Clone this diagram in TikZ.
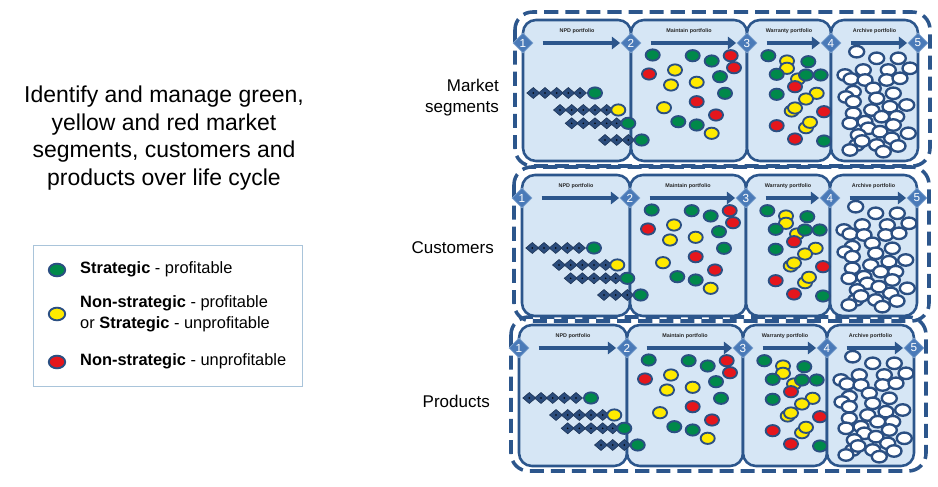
\documentclass[tikz,border=0pt]{standalone}
\usepackage{fontspec}
\setmainfont{Liberation Sans}
\usetikzlibrary{arrows.meta, positioning, shapes.geometric}

\definecolor{frameblue}{HTML}{2C568C}
\definecolor{boxfill}{HTML}{D6E6F5}
\definecolor{gateblue}{HTML}{4A7AB8}
\definecolor{gateedge}{HTML}{7FA3CF}
\definecolor{npdblue}{HTML}{2B4C7C}
\definecolor{dotline}{HTML}{2B4F82}
\definecolor{segGreen}{HTML}{00894A}
\definecolor{segYellow}{HTML}{FFEA00}
\definecolor{segRed}{HTML}{E5161C}
\definecolor{legendedge}{HTML}{A9C4DA}

\tikzset{
  panelframe/.style={draw=frameblue, line width=3pt, dash pattern=on 12pt off 6pt, rounded corners=15pt},
  stagebox/.style={draw=frameblue, fill=boxfill, line width=2.2pt, rounded corners=11pt},
  gate/.style={diamond, aspect=1, fill=gateblue, draw=gateedge, line width=0.6pt, text=white,
    inner sep=0pt, minimum width=17pt, minimum height=17pt, font=\fontsize{10}{10}\selectfont},
  flow/.style={draw=frameblue, line width=3.8pt, -{Triangle[length=7pt,width=10.5pt]},
    shorten <=8pt, shorten >=0.5pt},
  stagelabel/.style={above=6.5pt, inner sep=0pt, text=black!85,
    font=\bfseries\fontsize{4.6}{5}\selectfont},
  npd/.style={fill=npdblue, draw=npdblue!70!black, line width=0.5pt},
  dotG/.style={draw=dotline, fill=segGreen, line width=1.6pt},
  dotY/.style={draw=dotline, fill=segYellow, line width=1.6pt},
  dotR/.style={draw=dotline, fill=segRed, line width=1.6pt},
  dotW/.style={draw=dotline, fill=white, line width=2pt},
  rowlabel/.style={anchor=east, align=right, inner sep=0pt, font=\fontsize{14.5}{18}\selectfont},
  legendtext/.style={anchor=west, align=left, inner sep=0pt, font=\fontsize{14}{18}\selectfont}
}

% one row of NPD gems ending in a coloured segment
\newcommand{\npdrow}[4]{%
  \foreach \gx in {#2} {
    \draw[npd] (\gx,#1) +(-6.5,0) -- +(0,-5.5) -- +(6.5,0) -- +(0,5.5) -- cycle;
    \fill[black] (\gx,#1) circle (0.7pt);
  }
  \draw[dot#4] (#3,#1) ellipse [x radius=6pt, y radius=4.8pt];
}

% one life cycle panel (stages, gates, segments)
\newcommand{\lifecyclepanel}{%
  \draw[panelframe] (515,12) rectangle (930,166);
  \draw[stagebox] (523,20) rectangle (631,161);
  \draw[stagebox] (631,20) rectangle (747,161);
  \draw[stagebox] (747,20) rectangle (831,161);
  \draw[stagebox] (831,20) rectangle (918,161);
  % gates
  \node[gate] (g1) at (523,43) {1};
  \node[gate] (g2) at (631,43) {2};
  \node[gate] (g3) at (747,43) {3};
  \node[gate] (g4) at (831,43) {4};
  \node[gate] (g5) at (918,43) {5};
  \draw[flow] (g1) -- node[stagelabel] (lnpd) {NPD portfolio} (g2);
  \draw[flow] (g2) -- node[stagelabel] (lmain) {Maintain portfolio} (g3);
  \draw[flow] (g3) -- node[stagelabel] (lwar) {Warranty portfolio} (g4);
  \draw[flow] (g4) -- node[stagelabel] (larc) {Archive portfolio} (g5);
  % NPD rows
  \npdrow{93}{533.3,545,556.7,568.3,580}{595}{G}
  \npdrow{110}{560,571.7,583.3,595,606.7}{618.3}{Y}
  \npdrow{123.3}{571.7,583.3,595,606.7,616.7}{628.3}{G}
  \npdrow{140}{605,616.7,628.3}{641.7}{G}
  % maintain and warranty segments
  \foreach \px/\py/\c in {652.7/55/G, 649/74/R, 675/70/Y, 671/85/Y, 692.7/55.7/G, 711.7/61/G,
      730.7/55.7/R, 734/67.7/R, 696.7/82.3/Y, 720/76.7/G, 725/93.3/G, 696.7/101.7/R,
      664/107.7/Y, 716/115/R, 678.3/121.7/G, 696.7/125/G, 711.7/133.3/Y,
      768.3/55.7/G, 787/61/Y, 787/68.3/Y, 808.3/61.7/G, 776.7/74.3/G, 798/79/Y, 806/75/G,
      820.7/75/G, 795/86.7/R, 776.7/94.3/G, 816.7/93.3/Y, 806/99/Y, 791.7/111/Y, 795/108/Y,
      824/111.7/R, 806/127.7/Y, 810/122.3/Y, 776.7/125.7/R, 795/139/R, 824/141/G}
    \draw[dot\c] (\px,\py) ellipse [x radius=6pt, y radius=4.8pt];
  % archive
  \foreach \px/\py in {856.7/51.7, 876.7/58.3, 898.3/58.3, 863.3/70, 888.3/70, 910/68.3,
      845/75, 851/79, 865/80, 886.7/80, 900/78.3, 873.3/88.3, 853.3/91.7, 893.3/93.3,
      846/97, 876.7/98.3, 853.3/101.7, 890/106.7, 906.7/105, 871.7/110, 853.3/113.3,
      881.7/116.7, 896.7/116.7, 865/121.7, 850/123.3, 893.3/125, 868.3/128.3, 880/131.7,
      908.3/133.3, 858.3/135, 891.7/138.3, 876.7/145, 856.7/145, 850/150, 883.3/151.7,
      862/141, 898/146}
    \draw[dotW] (\px,\py) ellipse [x radius=6.4pt, y radius=4.9pt];
}

\begin{document}
\begin{tikzpicture}[x=0.03cm, y=-0.03cm]
  \useasboundingbox (0,0) rectangle (938,487);

  % left side
  \node[align=center, inner sep=0pt, font=\fontsize{19.6}{23.5}\selectfont] (title) at (164,138)
    {Identify and manage green,\\yellow and red market\\segments, customers and\\products over life cycle};
  \draw[legendedge, line width=0.8pt] (33,245) rectangle (302,386);
  \draw[dotG] (57,270) ellipse [x radius=7pt, y radius=5.4pt];
  \draw[dotY] (57,314) ellipse [x radius=7pt, y radius=5.4pt];
  \draw[dotR] (57,362) ellipse [x radius=7pt, y radius=5.4pt];
  \node[legendtext] (lgreen) at (80,269) {\textbf{Strategic} - profitable};
  \node[legendtext] (lyellow) at (80,314) {\textbf{Non-strategic} - profitable\\or \textbf{Strategic} - unprofitable};
  \node[legendtext] (lred) at (80,361) {\textbf{Non-strategic} - unprofitable};

  % row labels
  \node[rowlabel] (market) at (499,97.5) {Market\\segments};
  \node[rowlabel] (customers) at (494,248) {Customers};
  \node[rowlabel] (products) at (490,401) {Products};

  % three panels
  \begin{scope}[name prefix=pm-]
    \lifecyclepanel
  \end{scope}
  \begin{scope}[shift={(-1,155)}, name prefix=pc-]
    \lifecyclepanel
  \end{scope}
  \begin{scope}[shift={(-4,305)}, name prefix=pp-]
    \lifecyclepanel
  \end{scope}
\end{tikzpicture}
\end{document}
